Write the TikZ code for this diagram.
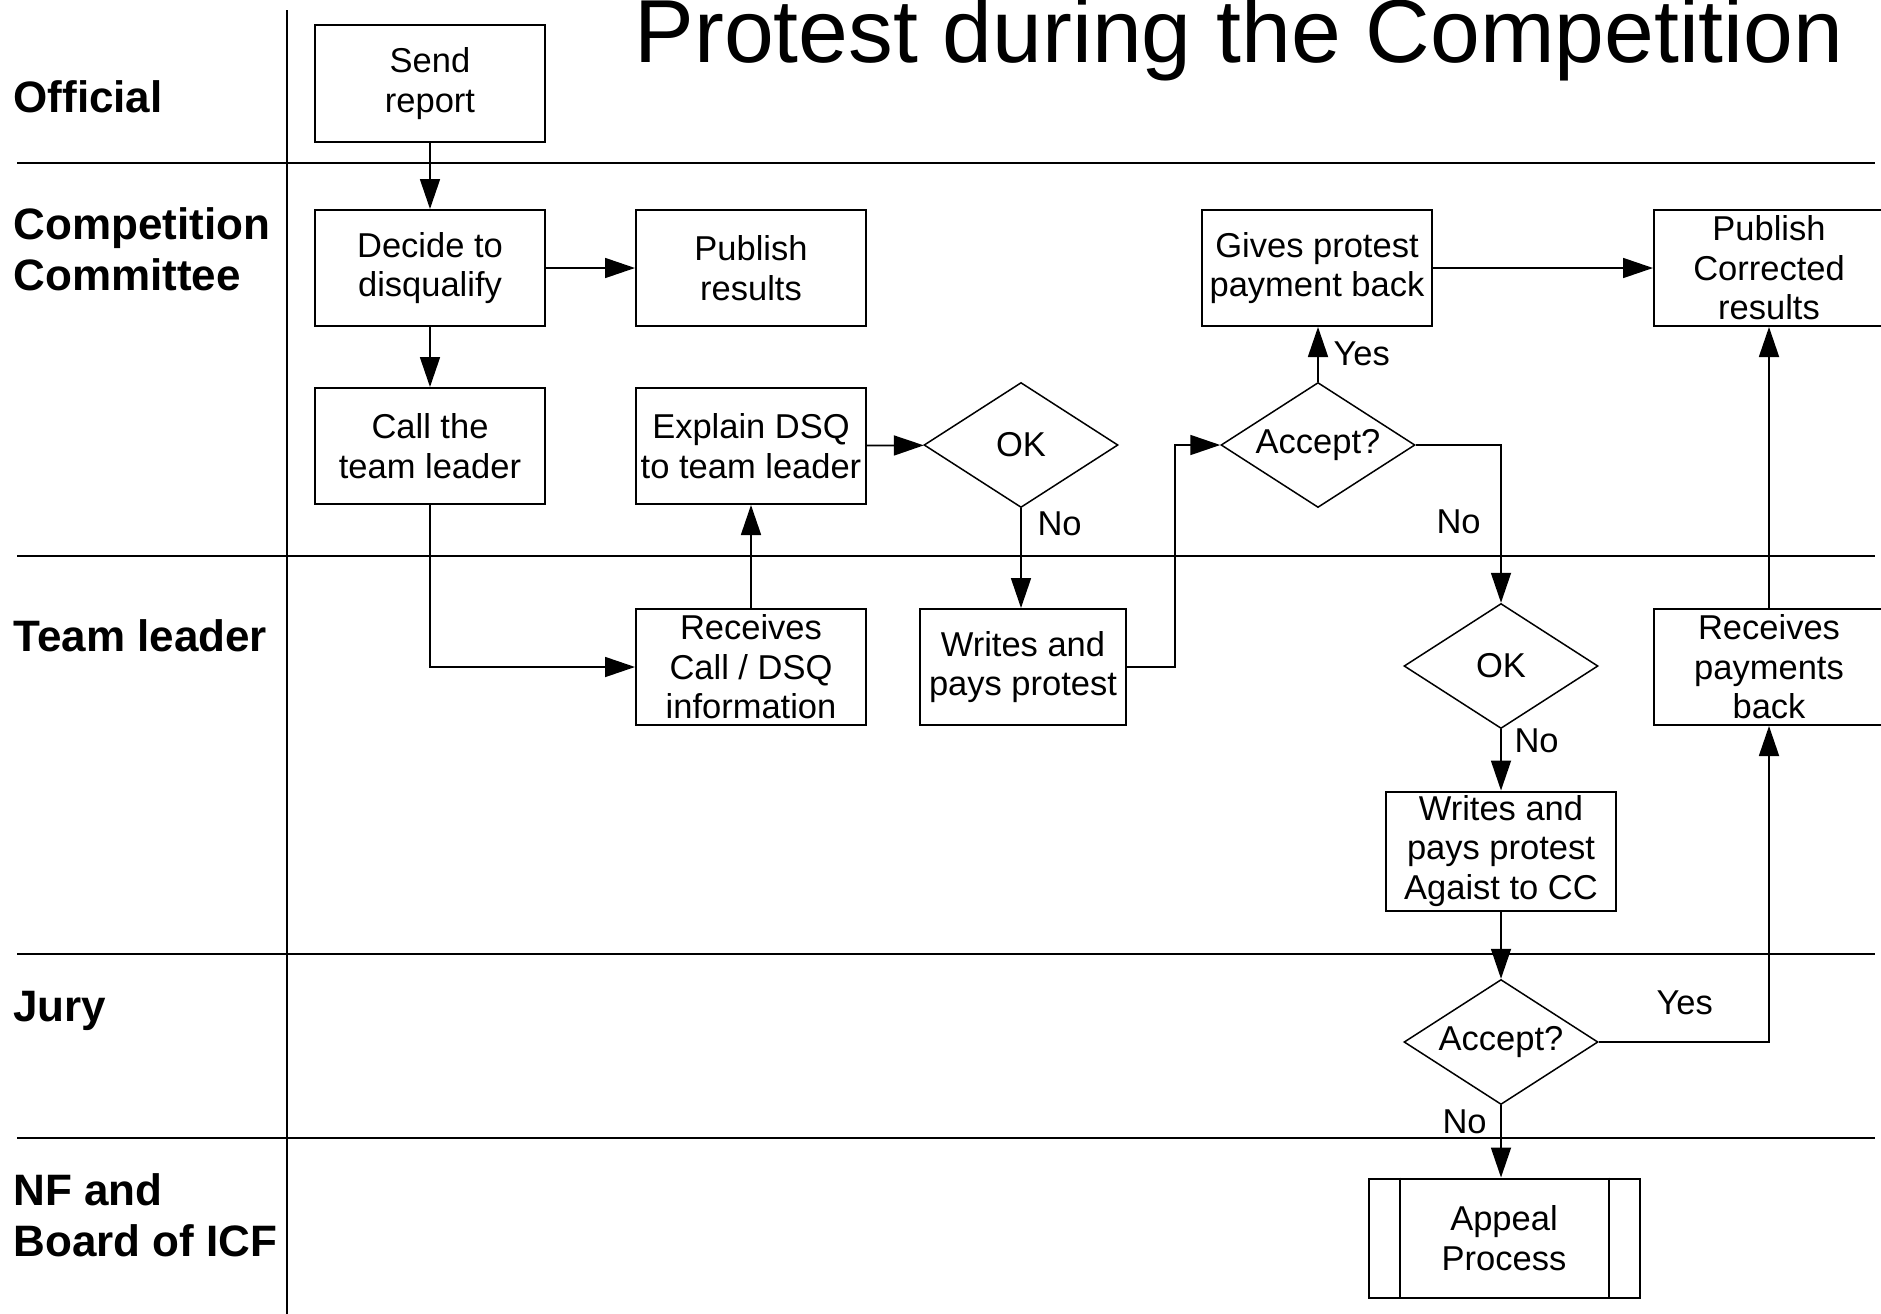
\documentclass[tikz,border=0pt]{standalone}
\usepackage{fontspec}
\setmainfont{Liberation Sans}
\usetikzlibrary{arrows.meta,positioning,shapes.geometric}
\tikzset{
  task/.style={draw,line width=0.8pt,minimum width=92pt,minimum height=46.4pt,inner sep=0pt,align=center,font=\fontsize{13.8}{15.8}\selectfont},
  decision/.style={draw,diamond,aspect=1.55,line width=0.6pt,minimum width=77.6pt,minimum height=50pt,inner sep=0pt,font=\fontsize{13.8}{15.8}\selectfont},
  lane/.style={anchor=west,inner sep=0pt,align=left,font=\fontsize{17.6}{20.4}\selectfont\bfseries},
  arrow/.style={-{Triangle[length=12pt,width=8pt]},line width=0.7pt},
  edgelabel/.style={anchor=base west,inner sep=0pt,font=\fontsize{13.8}{15.8}\selectfont}
}

\begin{document}
\begin{tikzpicture}[x=0.4pt,y=-0.4pt]
  \fill[white] (0,0) rectangle (1881,1314);
  \useasboundingbox (0,0) rectangle (1881,1314);
  \draw[line width=0.7pt] (287,10) -- (287,1314);
  \foreach \y in {163,556,954,1138}
    \draw[line width=0.7pt] (17,\y) -- (1875,\y);

  \node[anchor=base west,inner sep=0pt,font=\fontsize{35.8}{40}\selectfont] (title) at (634,62) {Protest during the Competition};

  \node[lane,anchor=base west] (official) at (13,112) {Official};
  \node[lane] (cc) at (13,249.5) {Competition\\Committee};
  \node[lane,anchor=base west] (leader) at (13,651) {Team leader};
  \node[lane,anchor=base west] (jury) at (13,1021) {Jury};
  \node[lane] (board) at (13,1215.5) {NF and\\Board of ICF};

  \node[task,minimum height=46.8pt] (send) at (430,83.5) {Send\\report};
  \node[task] (decide) at (430,268) {Decide to\\disqualify};
  \node[task] (publish) at (751,268) {Publish\\results};
  \node[task] (call) at (430,446) {Call the\\team leader};
  \node[task] (explain) at (751,446) {Explain DSQ\\to team leader};
  \node[decision] (ok) at (1021,445) {OK};
  \node[task] (gives) at (1317,268) {Gives protest\\payment back};
  \node[decision] (accept) at (1318,445) {Accept?};
  \node[task] (corrected) at (1769,268) {Publish\\Corrected\\results};
  \node[task] (receive) at (751,667) {Receives\\Call / DSQ\\information};
  \node[task,minimum width=82.4pt] (writes) at (1023,667) {Writes and\\pays protest};
  \node[decision] (okagain) at (1501,666) {OK};
  \node[task] (paid) at (1769,667) {Receives\\payments\\back};
  \node[task,minimum height=47.6pt] (against) at (1501,851) {Writes and\\pays protest\\Agaist to CC};
  \node[decision] (verdict) at (1501,1042) {Accept?};
  \node[task,minimum width=108.4pt,minimum height=47.6pt] (appeal) at (1504,1238) {Appeal\\Process};
  \draw[line width=0.8pt] ([xshift=12.8pt]appeal.north west) -- ([xshift=12.8pt]appeal.south west)
    ([xshift=-12.8pt]appeal.north east) -- ([xshift=-12.8pt]appeal.south east);

  \draw[arrow] (send) -- (decide);
  \draw[arrow] (decide) -- (publish);
  \draw[arrow] (decide) -- (call);
  \draw[arrow] (call.south) |- (receive.west);
  \draw[arrow] (receive) -- (explain);
  \draw[arrow] (explain) -- (ok);
  \draw[arrow] (ok.south) -- (ok.south |- writes.north);
  \draw[arrow] (writes.east) -- ++(48,0) |- (accept.west);
  \draw[arrow] (accept.north) -- (accept.north |- gives.south);
  \draw[arrow] (gives) -- (corrected);
  \draw[arrow] (accept.east) -| (okagain.north);
  \draw[arrow] (okagain) -- (against);
  \draw[arrow] (paid) -- (corrected);
  \draw[arrow] (against) -- (verdict);
  \draw[arrow] (verdict.east) -| (paid.south);
  \draw[arrow] (verdict.south) -- (verdict.south |- appeal.north);

  \node[edgelabel] (okno) at (1037,535) {No};
  \node[edgelabel] (acceptyes) at (1333,365) {Yes};
  \node[edgelabel] (acceptno) at (1436,533) {No};
  \node[edgelabel] (okagainno) at (1514,752) {No};
  \node[edgelabel] (verdictyes) at (1656,1014) {Yes};
  \node[edgelabel] (verdictno) at (1442,1133) {No};
\end{tikzpicture}
\end{document}
